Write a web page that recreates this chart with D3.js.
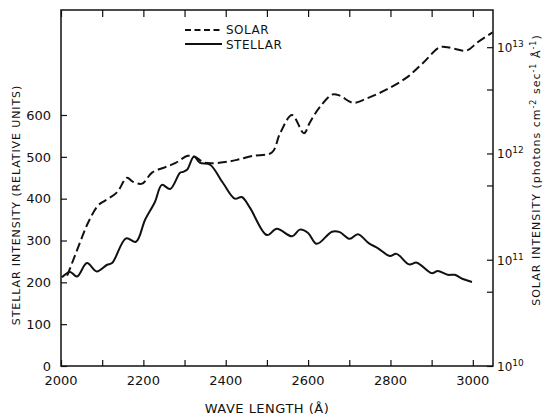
<!DOCTYPE html>
<html>
<head>
<meta charset="utf-8">
<script src="https://cdn.jsdelivr.net/npm/d3@7"></script>
<style>
  body { margin: 0; background: #fff; }
  svg text { font-family: "DejaVu Sans", sans-serif; fill: #111; }
</style>
</head>
<body>
<svg id="chart" width="543" height="417"></svg>
<script>
// wavelengths (Å) and stellar intensity (relative units)
const stellarWave = [2002, 2022, 2039, 2063, 2087, 2112, 2124, 2158, 2182, 2204, 2228, 2245, 2265, 2289, 2296, 2306,
    2323, 2337, 2362, 2393, 2422, 2439, 2459, 2500, 2524, 2561, 2580, 2600, 2621, 2658, 2677, 2701, 2721, 2748,
    2769, 2798, 2815, 2845, 2864, 2900, 2915, 2939, 2956, 2976, 2998];
const stellarValue = [212, 225, 214, 246, 226, 242, 246, 305, 297, 349, 392, 433, 423, 462, 464, 469,
    501, 486, 481, 438, 400, 404, 378, 313, 328, 310, 326, 318, 292, 321, 320, 304, 315, 293,
    282, 263, 268, 243, 247, 222, 227, 218, 218, 208, 201];

// wavelengths (Å) and solar intensity (photons cm-2 sec-1 Å-1)
const solarWave = [2015, 2022, 2046, 2066, 2090, 2107, 2136, 2160, 2175, 2197, 2221, 2252, 2277, 2308, 2325, 2345,
    2364, 2398, 2427, 2466, 2512, 2532, 2561, 2590, 2604, 2629, 2660, 2677, 2709, 2743, 2791, 2840, 2879,
    2920, 2939, 2985, 3010, 3048];
const solarValue = [7.1e10, 8.3e10, 1.45e11, 2.24e11, 3.24e11, 3.6e11, 4.3e11, 5.9e11, 5.4e11, 5.2e11, 6.6e11,
    7.4e11, 8.1e11, 9.5e11, 9.3e11, 8.3e11, 8.1e11, 8.3e11, 8.7e11, 9.5e11, 1.02e12, 1.55e12, 2.3e12, 1.55e12,
    1.95e12, 2.75e12, 3.6e12, 3.5e12, 3.0e12, 3.3e12, 4.0e12, 5.2e12, 7.1e12, 1.0e13, 1.0e13, 9.3e12,
    1.1e13, 1.38e13];

const xTicks = [2000, 2200, 2400, 2600, 2800, 3000];
const xMinorTicks = [2100, 2300, 2500, 2700, 2900];
const leftTicks = [0, 100, 200, 300, 400, 500, 600];
const rightTicks = [1e10, 1e11, 1e12, 1e13];
const rightExp = ["10", "11", "12", "13"];
const rightMinorTicks = [5e10, 5e11, 4e12];

const svg = d3.select("svg#chart");
const mLeft = 61, mRight = 493, mTop = 10, mBottom = 366;

const x = d3.scaleLinear().domain([2000, 3049]).range([mLeft, mRight]);
const yL = d3.scaleLinear().domain([0, 851]).range([mBottom, mTop]);
const yR = d3.scaleLog().domain([1e10, Math.pow(10, 13.35)]).range([mBottom, mTop]);

// frame
svg.append("rect")
    .attr("x", mLeft).attr("y", mTop)
    .attr("width", mRight - mLeft).attr("height", mBottom - mTop)
    .attr("fill", "none").attr("stroke", "#111").attr("stroke-width", 1.5);

// bottom axis
const xAxis = svg.append("g").attr("transform", `translate(0,${mBottom})`)
    .call(d3.axisBottom(x).tickValues(xTicks.concat(xMinorTicks)).tickSize(-6).tickFormat(""));
xAxis.select(".domain").remove();
svg.append("g").selectAll("text")
    .data(xTicks).enter().append("text")
    .attr("x", d => x(d)).attr("y", 385)
    .attr("text-anchor", "middle").attr("font-size", 13)
    .text(d => d);

// top ticks
const xTop = svg.append("g").attr("transform", `translate(0,${mTop})`)
    .call(d3.axisTop(x).tickValues(xTicks.concat(xMinorTicks)).tickSize(-7).tickFormat(""));
xTop.select(".domain").remove();

// left axis
const yAxisL = svg.append("g").attr("transform", `translate(${mLeft},0)`)
    .call(d3.axisLeft(yL).tickValues(leftTicks).tickSize(-6).tickPadding(10));
yAxisL.select(".domain").remove();
yAxisL.selectAll("text").attr("font-size", 13).attr("font-family", "DejaVu Sans").attr("fill", "#111");

// right axis
const yAxisR = svg.append("g").attr("transform", `translate(${mRight},0)`)
    .call(d3.axisRight(yR).tickValues(rightTicks.concat(rightMinorTicks)).tickSize(-6).tickFormat(""));
yAxisR.select(".domain").remove();
svg.selectAll(".tick line").attr("stroke", "#111").attr("stroke-width", 1.2);

const rLab = svg.append("g").selectAll("text")
    .data(rightTicks).enter().append("text")
    .attr("x", 497).attr("y", d => yR(d) + 5)
    .attr("font-size", 12);
rLab.append("tspan").text("10");
rLab.append("tspan").attr("dy", -5).attr("font-size", 9).text((d, i) => rightExp[i]);

// axis titles
svg.append("text")
    .attr("transform", "translate(20,205) rotate(-90)")
    .attr("text-anchor", "middle").attr("font-size", 11).attr("letter-spacing", 0.9)
    .text("STELLAR INTENSITY (RELATIVE UNITS)");

const rt = svg.append("text")
    .attr("transform", "translate(540,170) rotate(-90)")
    .attr("text-anchor", "middle").attr("font-size", 11).attr("letter-spacing", 1);
rt.append("tspan").text("SOLAR INTENSITY (photons cm");
rt.append("tspan").attr("dy", -4).attr("font-size", 8).text("-2");
rt.append("tspan").attr("dy", 4).text(" sec");
rt.append("tspan").attr("dy", -4).attr("font-size", 8).text("-1");
rt.append("tspan").attr("dy", 4).text(" Å");
rt.append("tspan").attr("dy", -4).attr("font-size", 8).text("-1");
rt.append("tspan").attr("dy", 4).text(")");

svg.append("text")
    .attr("x", 267).attr("y", 413)
    .attr("text-anchor", "middle").attr("font-size", 13).attr("letter-spacing", 0.5)
    .text("WAVE LENGTH (Å)");

// curves
const stellarLine = d3.line()
    .x(d => x(d[0])).y(d => yL(d[1]))
    .curve(d3.curveCatmullRom.alpha(0.5));
const solarLine = d3.line()
    .x(d => x(d[0])).y(d => yR(d[1]))
    .curve(d3.curveCatmullRom.alpha(0.5));

svg.append("path")
    .datum(d3.zip(stellarWave, stellarValue))
    .attr("d", stellarLine)
    .attr("fill", "none").attr("stroke", "#111").attr("stroke-width", 2);

svg.append("path")
    .datum(d3.zip(solarWave, solarValue))
    .attr("d", solarLine)
    .attr("fill", "none").attr("stroke", "#111").attr("stroke-width", 2)
    .attr("stroke-dasharray", "9,4");

// legend
const legend = svg.append("g");
legend.append("line").attr("x1", 185).attr("x2", 222).attr("y1", 30).attr("y2", 30)
    .attr("stroke", "#111").attr("stroke-width", 1.8).attr("stroke-dasharray", "6,3.5");
legend.append("line").attr("x1", 185).attr("x2", 222).attr("y1", 44).attr("y2", 44)
    .attr("stroke", "#111").attr("stroke-width", 1.8);
legend.append("text").attr("x", 226).attr("y", 34).attr("font-size", 12).attr("letter-spacing", 0.5).text("SOLAR");
legend.append("text").attr("x", 226).attr("y", 49).attr("font-size", 12).attr("letter-spacing", 0.5).text("STELLAR");
</script>
</body>
</html>
